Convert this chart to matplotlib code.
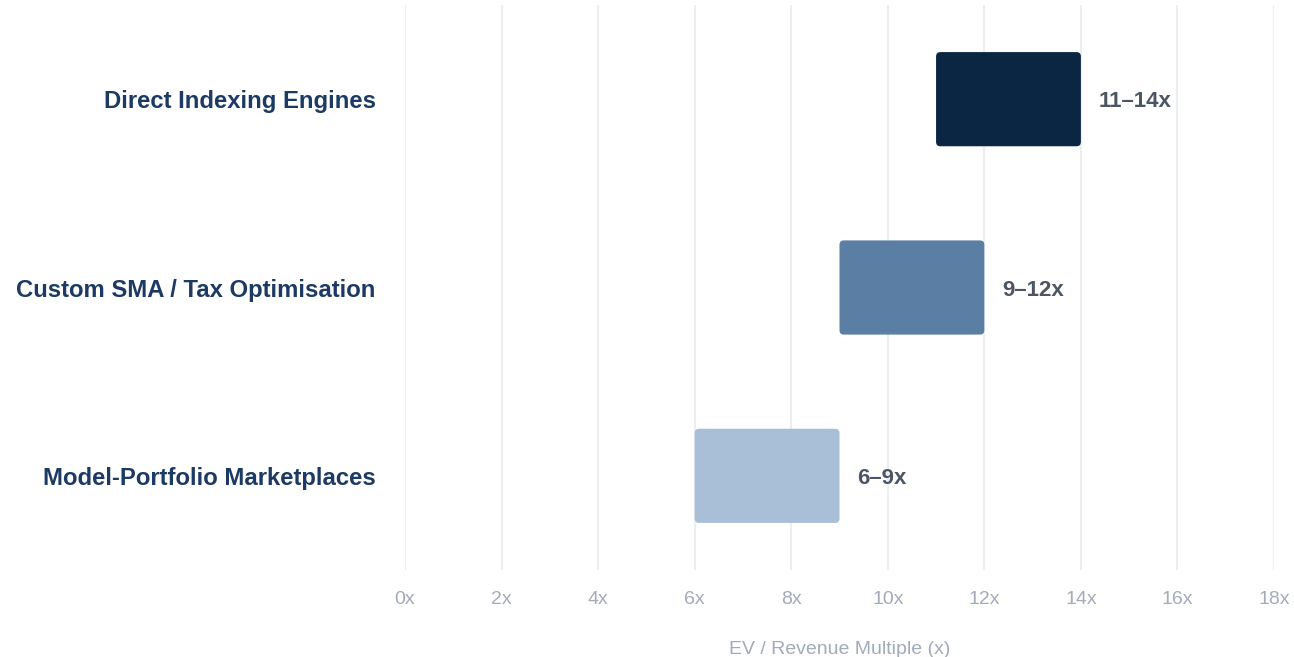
import matplotlib.pyplot as plt
from matplotlib.patches import FancyBboxPatch

plt.rcParams['font.family'] = ['Liberation Sans', 'DejaVu Sans']

segments = ['Direct Indexing Engines', 'Custom SMA / Tax Optimisation', 'Model-Portfolio Marketplaces']
low = [11, 9, 6]
high = [14, 12, 9]
bar_colors = ['#0B2642', '#5B7FA4', '#A9BFD8']
ticks = [0, 2, 4, 6, 8, 10, 12, 14, 16, 18]

fig = plt.figure(figsize=(12.94, 6.57), dpi=100)
ax = fig.add_axes([405 / 1294, 87 / 657, 869 / 1294, 565 / 657])

ax.set_xlim(0, 18)
ax.set_ylim(2.5, -0.5)

# x px per unit vs y px per unit, so the corners look round
aspect = (869 / 18) / (565 / 3)
bar_h = 0.5
for i, (lo, hi, c) in enumerate(zip(low, high, bar_colors)):
    box = FancyBboxPatch((lo, i - bar_h / 2), hi - lo, bar_h,
                         boxstyle='round,pad=0,rounding_size=0.09',
                         mutation_aspect=aspect, fc=c, ec='none', zorder=3)
    ax.add_patch(box)
    ax.annotate(f'{lo}\u2013{hi}x', (hi, i), xytext=(13, 0), textcoords='offset points',
                va='center_baseline', ha='left', fontsize=16, fontweight='bold', color='#4B5563')

ax.set_yticks(range(len(segments)))
ax.set_yticklabels(segments, fontsize=17.2, fontweight='bold', color='#1C3A63')
ax.set_xticks(ticks)
ax.set_xticklabels([f'{t}x' for t in ticks], fontsize=14, color='#A3ABBA')
ax.tick_params(axis='y', length=0, pad=21)
ax.tick_params(axis='x', length=0, pad=15)
for lbl in ax.get_yticklabels():
    lbl.set_verticalalignment('center_baseline')

ax.grid(axis='x', color='#ECEFF2', linewidth=1.5, zorder=0)
ax.set_axisbelow(True)
for s in ax.spines.values():
    s.set_visible(False)

ax.set_xlabel('EV / Revenue Multiple (x)', fontsize=14, color='#A3ABBA', labelpad=24)

fig.savefig('out.png', dpi=100)
